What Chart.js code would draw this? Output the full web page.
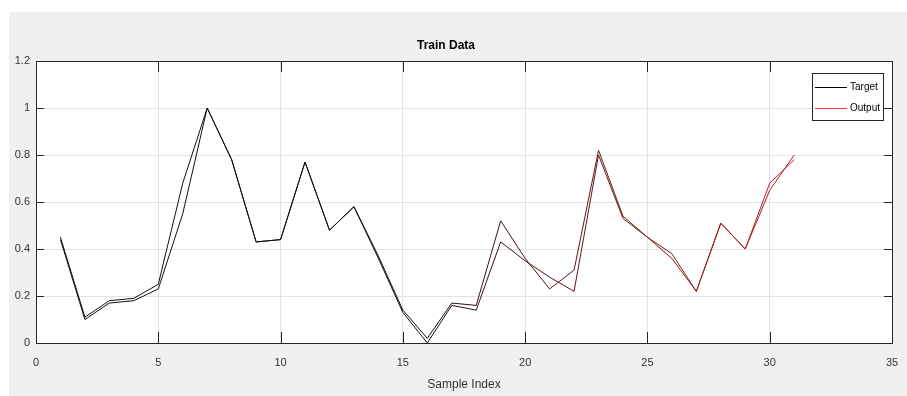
<!DOCTYPE html>
<html lang="en">
<head>
    <meta charset="UTF-8">
    <title>Train Data</title>
    <script src="https://cdn.jsdelivr.net/npm/chart.js"></script>
    <style>
        html, body { margin: 0; padding: 0; background: #ffffff; }
        #wrap { width: 907px; height: 396px; }
    </style>
</head>
<body>
<div id="wrap"><canvas id="train"></canvas></div>
<script>
    // sample index and the two series
    const sampleIndex = [1, 2, 3, 4, 5, 6, 7, 8, 9, 10, 11, 12, 13, 14, 15, 16,
        17, 18, 19, 20, 21, 22, 23, 24, 25, 26, 27, 28, 29, 30, 31];
    const target = [0.45, 0.11, 0.18, 0.19, 0.25, 0.68, 1.00, 0.78, 0.43, 0.44, 0.77,
        0.48, 0.58, 0.37, 0.14, 0.02, 0.17, 0.16, 0.52, 0.36, 0.23, 0.31, 0.82,
        0.54, 0.45, 0.38, 0.22, 0.51, 0.40, 0.68, 0.78];
    const output = [0.44, 0.10, 0.17, 0.18, 0.23, 0.55, 1.00, 0.78, 0.43, 0.44, 0.77,
        0.48, 0.58, 0.36, 0.13, 0.00, 0.16, 0.14, 0.43, 0.35, 0.28, 0.22, 0.80,
        0.53, 0.45, 0.36, 0.22, 0.51, 0.40, 0.65, 0.80];
    const xTicks = [0, 5, 10, 15, 20, 25, 30, 35];
    const yTicks = [0, 0.2, 0.4, 0.6, 0.8, 1, 1.2];

    const FONT = '"Liberation Sans", Arial, sans-serif';
    const AXIS = '#333333';

    // line fades from black to red along the x axis, like in the screenshot
    const fade = ctx => {
        const x = ctx.p0.parsed.x;
        let t = Math.min(Math.max((x - 15) / 16, 0), 1);
        return `rgb(${Math.round(20 + 175 * t)}, ${Math.round(15 + 20 * t)}, ${Math.round(15 + 20 * t)})`;
    };

    const toPoints = arr => arr.map((v, i) => ({x: sampleIndex[i], y: v}));

    const matlabFrame = {
        id: 'matlabFrame',
        beforeDraw(chart) {
            const {ctx, chartArea: a} = chart;
            ctx.save();
            ctx.fillStyle = '#ffffff';
            ctx.fillRect(0, 0, chart.width, chart.height);
            ctx.fillStyle = '#f0f0f0';
            ctx.fillRect(9, 12, chart.width - 9, chart.height - 12);
            ctx.fillStyle = '#ffffff';
            ctx.fillRect(a.left, a.top, a.right - a.left, a.bottom - a.top);
            ctx.restore();
        },
        afterDraw(chart) {
            const {ctx, chartArea: a, scales} = chart;
            ctx.save();
            ctx.strokeStyle = '#262626';
            ctx.lineWidth = 1;
            ctx.beginPath();
            // inward ticks on all four sides
            xTicks.forEach(v => {
                const px = Math.round(scales.x.getPixelForValue(v)) + 0.5;
                ctx.moveTo(px, a.bottom); ctx.lineTo(px, a.bottom - 11);
                ctx.moveTo(px, a.top); ctx.lineTo(px, a.top + 11);
            });
            yTicks.forEach(v => {
                const py = Math.round(scales.y.getPixelForValue(v)) + 0.5;
                ctx.moveTo(a.left, py); ctx.lineTo(a.left + 8, py);
                ctx.moveTo(a.right, py); ctx.lineTo(a.right - 8, py);
            });
            ctx.stroke();
            ctx.strokeRect(Math.round(a.left) + 0.5, Math.round(a.top) + 0.5,
                Math.round(a.right - a.left), Math.round(a.bottom - a.top));

            // legend box
            const bx = 812, by = 73, bw = 71, bh = 47;
            ctx.fillStyle = '#ffffff';
            ctx.fillRect(bx, by, bw, bh);
            ctx.strokeRect(bx + 0.5, by + 0.5, bw, bh);
            const legendColors = ['#000000', '#ff3030'];
            ctx.font = '10px ' + FONT;
            ctx.textBaseline = 'middle';
            chart.data.datasets.forEach((ds, i) => {
                const y = by + 14 + i * 21;
                ctx.strokeStyle = legendColors[i];
                ctx.beginPath();
                ctx.moveTo(bx + 3, y + 0.5); ctx.lineTo(bx + 35, y + 0.5);
                ctx.stroke();
                ctx.fillStyle = '#000000';
                ctx.fillText(ds.label, bx + 38, y);
            });
            ctx.restore();
        }
    };

    new Chart(document.getElementById('train'), {
        type: 'line',
        data: {
            datasets: [{
                label: 'Target',
                data: toPoints(target),
                borderColor: '#000000',
                segment: {borderColor: fade},
                borderWidth: 1,
                pointRadius: 0,
                fill: false,
                tension: 0
            }, {
                label: 'Output',
                data: toPoints(output),
                borderColor: '#ff0000',
                segment: {borderColor: fade},
                borderWidth: 1,
                pointRadius: 0,
                fill: false,
                tension: 0
            }]
        },
        options: {
            responsive: true,
            maintainAspectRatio: false,
            animation: false,
            layout: {padding: {top: 0, right: 15, bottom: 0, left: 0}},
            plugins: {
                legend: {display: false},
                tooltip: {enabled: false},
                title: {
                    display: true,
                    text: 'Train Data',
                    color: '#000000',
                    font: {family: FONT, size: 12, weight: 'bold'},
                    padding: {top: 38, bottom: 8.6}
                }
            },
            scales: {
                x: {
                    type: 'linear',
                    min: 0,
                    max: 35,
                    afterBuildTicks: s => { s.ticks = xTicks.map(v => ({value: v})); },
                    afterFit: s => { s.height = 53; s.paddingLeft = 0; s.paddingRight = 0; },
                    grid: {color: '#e3e3e3', drawTicks: false},
                    border: {display: false},
                    ticks: {color: AXIS, padding: 13, font: {family: FONT, size: 11}, maxRotation: 0,
                        callback: v => String(v)},
                    title: {
                        display: true,
                        text: 'Sample Index',
                        color: AXIS,
                        font: {family: FONT, size: 12},
                        padding: {top: 4, bottom: 4}
                    }
                },
                y: {
                    min: 0,
                    max: 1.2,
                    afterBuildTicks: s => { s.ticks = yTicks.map(v => ({value: v})); },
                    afterFit: s => { s.width = 36; s.paddingTop = 0; s.paddingBottom = 0; },
                    grid: {color: '#e3e3e3', drawTicks: false},
                    border: {display: false},
                    ticks: {color: AXIS, padding: 6, font: {family: FONT, size: 11},
                        callback: v => String(v)}
                }
            }
        },
        plugins: [matlabFrame]
    });
</script>
</body>
</html>
